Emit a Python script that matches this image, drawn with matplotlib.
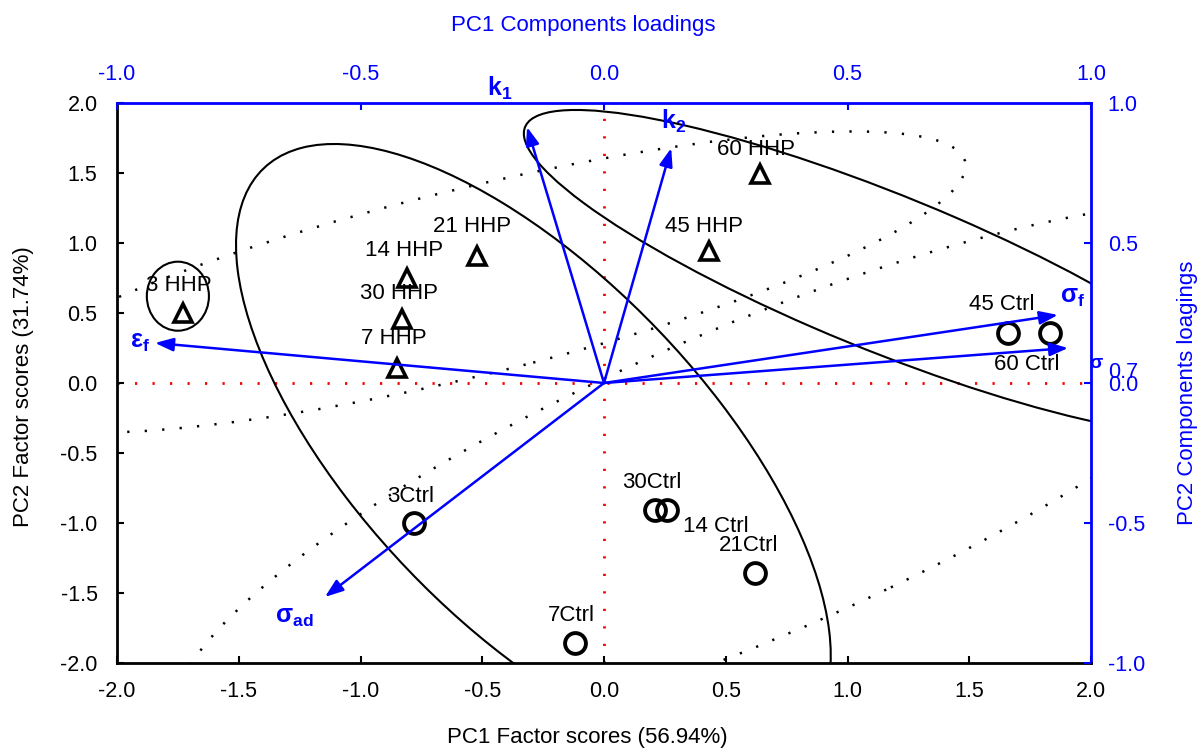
import numpy as np
import matplotlib
matplotlib.use('agg')
import matplotlib.pyplot as plt
from matplotlib.patches import Ellipse

plt.rcParams['font.family'] = ['Liberation Sans', 'DejaVu Sans']
plt.rcParams['mathtext.fontset'] = 'custom'
plt.rcParams['mathtext.rm'] = 'Liberation Sans'
plt.rcParams['mathtext.it'] = 'Liberation Sans:italic'
plt.rcParams['mathtext.bf'] = 'Liberation Sans:bold'
plt.rcParams['axes.unicode_minus'] = False

W, H = 1200, 749

# factor scores (PC1, PC2)
hhp_names = ['3 HHP', '7 HHP', '14 HHP', '21 HHP', '30 HHP', '45 HHP', '60 HHP']
hhp_pc1 = [-1.73, -0.85, -0.81, -0.52, -0.83, 0.43, 0.64]
hhp_pc2 = [0.50, 0.11, 0.75, 0.91, 0.46, 0.94, 1.49]

ctrl_names = ['3Ctrl', '7Ctrl', '14 Ctrl', '21Ctrl', '30Ctrl', '45 Ctrl', '60 Ctrl']
ctrl_pc1 = [-0.78, -0.12, 0.26, 0.62, 0.21, 1.66, 1.83]
ctrl_pc2 = [-1.00, -1.86, -0.91, -1.36, -0.91, 0.36, 0.36]

# component loadings
load_names = [r'$\mathbf{k_1}$', r'$\mathbf{k_2}$', r'$\mathbf{\varepsilon_f}$',
              r'$\mathbf{\sigma_f}$', r'$\mathbf{\sigma_{ad}}$']
load_pc1 = [-0.158, 0.138, -0.922, 0.932, -0.573]
load_pc2 = [0.914, 0.839, 0.143, 0.243, -0.764]
# sigma 0.7 loading (its label sits on the right axis)
s07_pc1, s07_pc2 = 0.953, 0.125

# confidence ellipses in score units: centre x, centre y, width, height, angle
solid_ell = [(-0.29, -0.48, 4.72, 1.68, -66.3),
             (1.15, 0.79, 3.63, 0.98, -37.0),
             (-1.75, 0.62, 0.255, 0.493, 0.0)]
dotted_ell = [(-0.55, 0.72, 4.43, 1.26, 24.3),
              (0.57, -0.73, 5.89, 1.90, 39.8)]

# label offsets from marker, pixels (dx right, dy up)
hhp_off = [(-4, 27.5), (-3, 29), (-2.5, 27), (-5.5, 29), (-3, 25.5), (-4.5, 24.5), (-4, 25)]
ctrl_off = [(-3, 27), (-3, 28), (48.5, -16), (-6, 27.5), (-3, 28), (-6.5, 28.5), (-22.5, -31.5)]
# arrow label positions in loading units
load_lab = [(-0.214, 1.052), (0.142, 0.936), (-0.953, 0.148), (0.962, 0.307), (-0.636, -0.836)]

px = 72.0 / 100

fig = plt.figure(figsize=(12, 7.49), dpi=100)
rect = [117 / W, 1 - 663 / H, (1091 - 117) / W, (663 - 103) / H]
ax = fig.add_axes(rect)
ax.set_xlim(-2, 2)
ax.set_ylim(-2, 2)
ticks = np.arange(-2, 2.01, 0.5)
ax.set_xticks(ticks)
ax.set_yticks(ticks)
ax.set_xticklabels(['%.1f' % t for t in ticks])
ax.set_yticklabels(['%.1f' % t for t in ticks])
ax.tick_params(direction='in', length=5, width=1.5, labelsize=15.5, colors='black')
ax.tick_params(axis='x', pad=13)
ax.tick_params(axis='y', pad=14)
for s in ['left', 'bottom']:
    ax.spines[s].set_color('black')
    ax.spines[s].set_linewidth(2)
for s in ['top', 'right']:
    ax.spines[s].set_color('blue')
    ax.spines[s].set_linewidth(2)

ax.axhline(0, color='red', ls=(0, (0.8, 5.5)), lw=2, zorder=1)
ax.axvline(0, color='red', ls=(0, (0.8, 5.5)), lw=2, zorder=1)

for cx, cy, w, h, a in solid_ell:
    ax.add_patch(Ellipse((cx, cy), w, h, angle=a, fill=False, ec='black', lw=1.5, zorder=2))
for cx, cy, w, h, a in dotted_ell:
    ax.add_patch(Ellipse((cx, cy), w, h, angle=a, fill=False, ec='black', lw=1.8,
                         ls=(0, (0.9, 6.1)), zorder=2))

ax.plot(hhp_pc1, hhp_pc2, ls='none', marker='^', ms=13, mfc='none', mec='black', mew=2.6, zorder=3)
ax.plot(ctrl_pc1, ctrl_pc2, ls='none', marker='o', ms=15, mfc='none', mec='black', mew=2.8, zorder=3)

for name, x, y, (dx, dy) in zip(hhp_names, hhp_pc1, hhp_pc2, hhp_off):
    ax.annotate(name, (x, y), xytext=(dx * px, dy * px), textcoords='offset points',
                ha='center', va='center', fontsize=16, zorder=4)
for name, x, y, (dx, dy) in zip(ctrl_names, ctrl_pc1, ctrl_pc2, ctrl_off):
    ax.annotate(name, (x, y), xytext=(dx * px, dy * px), textcoords='offset points',
                ha='center', va='center', fontsize=16, zorder=4)

# loadings axes on top / right
axl = fig.add_axes(rect, frameon=False)
axl.set_xlim(-1, 1)
axl.set_ylim(-1, 1)
lt = np.arange(-1, 1.01, 0.5)
axl.set_xticks(lt)
axl.set_yticks(lt)
axl.set_xticklabels(['%.1f' % t for t in lt])
axl.set_yticklabels(['%.1f' % t for t in lt])
axl.xaxis.tick_top()
axl.yaxis.tick_right()
axl.tick_params(direction='in', length=5, width=1.5, labelsize=15.5, colors='blue')
axl.tick_params(axis='x', pad=13)
axl.tick_params(axis='y', pad=12)

arrow = dict(arrowstyle='-|>,head_length=0.55,head_width=0.2', color='blue', lw=1.8,
             mutation_scale=20, shrinkA=0, shrinkB=0)
for x, y in zip(load_pc1 + [s07_pc1], load_pc2 + [s07_pc2]):
    axl.annotate('', xy=(x, y), xytext=(0, 0), arrowprops=arrow)
for name, (x, y) in zip(load_names, load_lab):
    axl.text(x, y, name, color='blue', fontsize=18, ha='center', va='center', clip_on=False)
axl.text(1.012, 0.068, r'$\mathbf{\sigma}$', color='blue', fontsize=14, ha='center', va='center')
axl.text(1.066, 0.039, '0.7', color='blue', fontsize=15.5, ha='center', va='center')

fig.text(587.5 / W, 1 - 738 / H, 'PC1 Factor scores (56.94%)', ha='center', va='center', fontsize=16)
fig.text(24 / W, 1 - 387 / H, 'PC2 Factor scores (31.74%)', ha='center', va='center',
         fontsize=16, rotation=90)
fig.text(583.5 / W, 1 - 26 / H, 'PC1 Components loadings', ha='center', va='center',
         fontsize=16, color='blue')
fig.text(1187 / W, 1 - 392.5 / H, 'PC2 Components loagings', ha='center', va='center',
         fontsize=16, color='blue', rotation=90)

fig.savefig('out.png', dpi=100)
